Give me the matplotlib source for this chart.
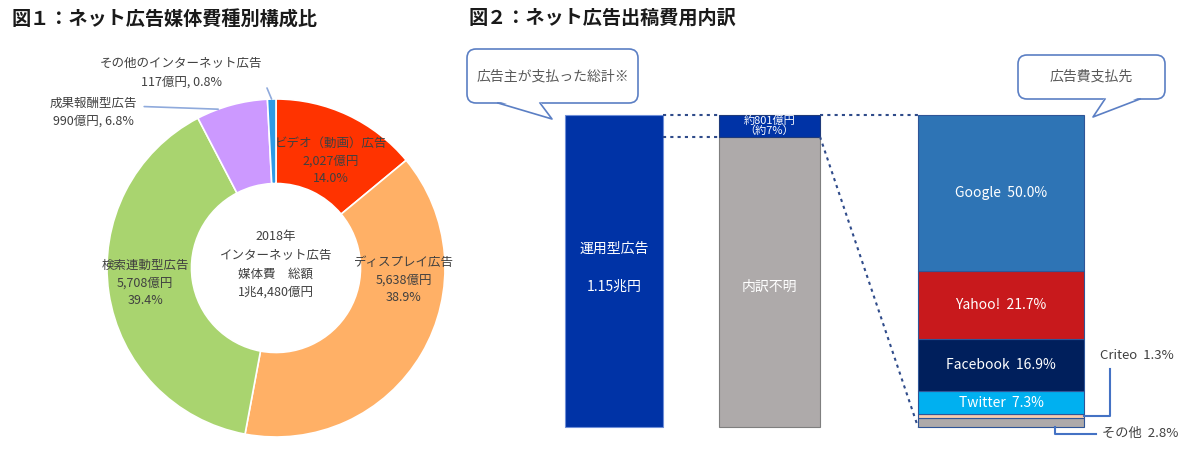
import numpy as np
import matplotlib.pyplot as plt
from matplotlib.patches import FancyBboxPatch, Polygon

plt.rcParams['font.family'] = ['Noto Sans CJK JP', 'DejaVu Sans']

# ---- data: 図1 ----
media_names = ['ビデオ（動画）広告', 'ディスプレイ広告', '検索連動型広告', '成果報酬型広告', 'その他のインターネット広告']
media_values = [2027, 5638, 5708, 990, 117]          # 億円
media_shares = [14.0, 38.9, 39.4, 6.8, 0.8]          # %
media_colors = ['#FF3300', '#FFB066', '#A9D46F', '#CC99FF', '#2E9BE6']
year_label = '2018年'

# ---- data: 図2 ----
total_cho = 1.15            # 兆円
known_oku = 801             # 億円
known_pct = 7
platform_names = ['Google', 'Yahoo!', 'Facebook', 'Twitter', 'Criteo', 'その他']
platform_shares = [50.0, 21.7, 16.9, 7.3, 1.3, 2.8]
platform_colors = ['#2E74B5', '#C8191C', '#001F5C', '#00B0F0', '#F8CBAD', '#AEAAAA']

W, H = 1200, 472
fig = plt.figure(figsize=(12, 4.72), dpi=100)
txt = '#404040'

# =========================
# 図1 donut
# =========================
R = 169.0
cx, cy = 276, 268
ax1 = fig.add_axes([0, 0, 440 / W, 1])
wedges, _ = ax1.pie(media_values, startangle=90, counterclock=False, colors=media_colors,
                    radius=1, wedgeprops=dict(width=0.5, edgecolor='white', linewidth=1.2))
ax1.set_xlim(-cx / R, (440 - cx) / R)
ax1.set_ylim(-(H - cy) / R, cy / R)
ax1.axis('off')

# labels inside the ring
label_r = [0.71, 0.76, 0.78]
label_nudge = [-2, 25, -2]
for i in range(3):
    w = wedges[i]
    ang = np.deg2rad((w.theta1 + w.theta2) / 2 + label_nudge[i])
    ax1.text(label_r[i] * np.cos(ang), label_r[i] * np.sin(ang),
             f"{media_names[i]}\n{media_values[i]:,}億円\n{media_shares[i]:.1f}%",
             ha='center', va='center', fontsize=9, color=txt, linespacing=1.45)

# outside labels with leader lines
out_text_pos = {3: (-1.08, 0.92), 4: (-0.56, 1.155)}
out_relpos = {3: (1.0, 0.7), 4: (1.0, 0.35)}
out_angle = {3: 110, 4: 91.5}
for i, pos in out_text_pos.items():
    ang = np.deg2rad(out_angle[i])
    ax1.annotate(f"{media_names[i]}\n{media_values[i]:,}億円, {media_shares[i]:.1f}%",
                 xy=(np.cos(ang), np.sin(ang)), xytext=pos,
                 ha='center', va='center', fontsize=9, color=txt, linespacing=1.5,
                 arrowprops=dict(arrowstyle='-', color='#8FAADC', lw=1.2,
                                 relpos=out_relpos[i], shrinkA=3, shrinkB=0))

total = sum(media_values)
ax1.text(0, 0.02, f"{year_label}\nインターネット広告\n媒体費　総額\n{total // 10000}兆{total % 10000:,}億円",
         ha='center', va='center', fontsize=9, color=txt, linespacing=1.55)

# =========================
# 図2 stacked bars
# =========================
ppu = 3.12  # pixels per percent
ax2 = fig.add_axes([440 / W, 0, 760 / W, 1])
ax2.set_xlim(4.4, 12.0)
ax2.set_ylim(-45 / ppu, (H - 45) / ppu)
ax2.axis('off')

x_pos = [6.14, 7.695, 10.01]
widths = [0.98, 1.01, 1.66]

# bar 1: total
ax2.bar(x_pos[0], 100, width=widths[0], color='#0033A6', edgecolor='#6F8FD8', lw=0.8)
ax2.text(x_pos[0], 57, '運用型広告', ha='center', va='center', color='white', fontsize=10)
ax2.text(x_pos[0], 45, f'{total_cho:.2f}兆円', ha='center', va='center', color='white', fontsize=10)

# bar 2: known part vs unknown part
known_h = known_oku / (total_cho * 10000) * 100
ax2.bar(x_pos[1], 100 - known_h, width=widths[1], color='#AEAAAA', edgecolor='#7F7F7F', lw=0.8)
ax2.bar(x_pos[1], known_h, bottom=100 - known_h, width=widths[1], color='#0033A6',
        edgecolor='#1F3A7A', lw=0.8)
ax2.text(x_pos[1], 45, '内訳不明', ha='center', va='center', color='white', fontsize=10)
ax2.text(x_pos[1], 100 - known_h / 2, f'約{known_oku}億円\n（約{known_pct}%）', ha='center',
         va='center', color='white', fontsize=8, linespacing=1.0)

# bar 3: breakdown (bottom-up)
order = [5, 4, 3, 2, 1, 0]
bottom = 0
seg_mid = {}
for k in order:
    ax2.bar(x_pos[2], platform_shares[k], bottom=bottom, width=widths[2], color=platform_colors[k],
            edgecolor='#2F5597', lw=0.8)
    seg_mid[k] = bottom + platform_shares[k] / 2
    bottom += platform_shares[k]
for k in range(4):
    ax2.text(x_pos[2], seg_mid[k], f'{platform_names[k]}  {platform_shares[k]:.1f}%', ha='center',
             va='center', color='white', fontsize=10)

# dotted guide lines
dot = dict(color='#2F4B8A', lw=1.5, ls=(0, (1.5, 2)))
r1 = x_pos[0] + widths[0] / 2
l2, r2 = x_pos[1] - widths[1] / 2, x_pos[1] + widths[1] / 2
l3, r3 = x_pos[2] - widths[2] / 2, x_pos[2] + widths[2] / 2
ax2.plot([r1, l2], [100, 100], **dot)
ax2.plot([r1, l2], [100 - known_h, 100 - known_h], **dot)
ax2.plot([r2, l3], [100, 100], **dot)
ax2.plot([r2, l3], [100 - known_h, 0], **dot)

# small-segment callouts
conn = dict(color='#4472C4', lw=1.5)
elbow_x = r3 + 0.26
ax2.plot([r3, elbow_x, elbow_x], [seg_mid[4], seg_mid[4], 18.5], **conn)
ax2.text(11.37, 22.8, f'{platform_names[4]}  {platform_shares[4]:.1f}%', ha='center', va='center',
         fontsize=9.5, color=txt)
ax2.plot([10.55, 10.55, 10.96], [0, -2.1, -2.1], **conn)
ax2.text(11.40, -2.1, f'{platform_names[5]}  {platform_shares[5]:.1f}%', ha='center', va='center',
         fontsize=9.5, color=txt)

# =========================
# overlay: titles and speech bubbles (pixel coords)
# =========================
ov = fig.add_axes([0, 0, 1, 1], facecolor='none')
ov.set_xlim(0, W)
ov.set_ylim(H, 0)
ov.axis('off')

ov.text(12, 20, '図１：ネット広告媒体費種別構成比', fontsize=13.8, fontweight='bold', va='center', color='#1A1A1A')
ov.text(469, 18, '図２：ネット広告出稿費用内訳', fontsize=13.8, fontweight='bold', va='center', color='#1A1A1A')


def bubble(x0, y0, w, h, text, base, tip):
    ec = '#5B7FC4'
    ov.add_patch(FancyBboxPatch((x0, y0), w, h, boxstyle='round,pad=0,rounding_size=9',
                                fc='white', ec=ec, lw=1.2, zorder=3))
    yb = y0 + h
    ov.add_patch(Polygon([(base[0], yb - 2), tip, (base[1], yb - 2)], closed=True,
                         fc='white', ec='none', zorder=4))
    ov.plot([base[0], tip[0], base[1]], [yb, tip[1], yb], color=ec, lw=1.2, zorder=5)
    ov.text(x0 + w / 2, y0 + h / 2, text, ha='center', va='center', fontsize=10, color='#595959', zorder=6)


bubble(467, 49, 171, 54, '広告主が支払った総計※', (498, 540), (552, 119))
bubble(1018, 55, 147, 44, '広告費支払先', (1105, 1140), (1093, 117))

fig.savefig('out.png', dpi=100)
